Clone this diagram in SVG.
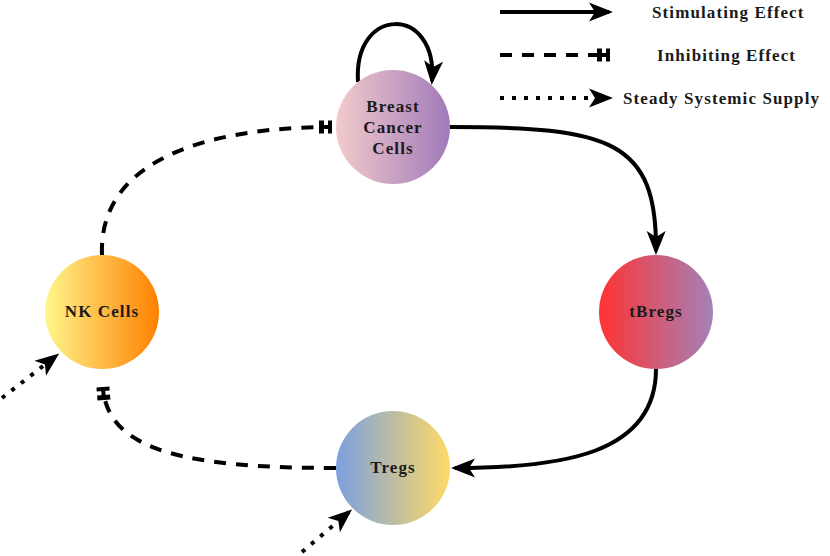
<svg xmlns="http://www.w3.org/2000/svg" width="830" height="556" viewBox="0 0 830 556">
<style>
.lbl{font-family:'Liberation Serif','DejaVu Serif','Times New Roman',serif;font-weight:700;font-size:17px;letter-spacing:1.1px;fill:#1a1a1a}
.c{text-anchor:middle}
.stim{fill:none;stroke:#000;stroke-width:4}
.inh{fill:none;stroke:#000;stroke-width:4;stroke-dasharray:12 10}
.sup{fill:none;stroke:#000;stroke-width:4;stroke-dasharray:4 8}
</style>
<defs>
<linearGradient id="gBC" x1="0" x2="1" y1="0" y2="0"><stop offset="0" stop-color="#f3cbcc"/><stop offset="1" stop-color="#a07ab8"/></linearGradient>
<linearGradient id="gNK" x1="0" x2="1" y1="0" y2="0"><stop offset="0" stop-color="#fff68c"/><stop offset="1" stop-color="#ff8000"/></linearGradient>
<linearGradient id="gTB" x1="0" x2="1" y1="0" y2="0"><stop offset="0" stop-color="#ff3333"/><stop offset="1" stop-color="#a382b8"/></linearGradient>
<linearGradient id="gTR" x1="0" x2="1" y1="0" y2="0"><stop offset="0" stop-color="#7ba1e0"/><stop offset="1" stop-color="#ffd966"/></linearGradient>
<marker id="arr" markerUnits="userSpaceOnUse" markerWidth="32" markerHeight="24" viewBox="-26 -12 32 24" refX="0" refY="0" orient="auto">
<path d="M4,0 L-20,-9.5 L-14,0 L-20,9.5 Z" fill="#000"/>
</marker>
<marker id="bar" markerUnits="userSpaceOnUse" markerWidth="24" markerHeight="20" viewBox="-18 -10 24 20" refX="0" refY="0" orient="auto">
<rect x="-12" y="-6.5" width="5" height="13" fill="#000"/>
<rect x="-3" y="-6.5" width="4" height="13" fill="#000"/>
<rect x="-12" y="-2" width="12" height="4" fill="#000"/>
</marker>
</defs>

<g id="legend">
<path class="stim" d="M500,12 L609,12" marker-end="url(#arr)"/>
<text class="lbl" x="652" y="18">Stimulating Effect</text>
<path class="inh" d="M500,55 L597,55"/>
<path d="M597,55 L609,55" stroke="#000" stroke-width="4" marker-end="url(#bar)" fill="none"/>
<text class="lbl" x="657" y="61">Inhibiting Effect</text>
<path class="sup" d="M500,98 L592,98"/>
<path d="M600,98 L609,98" stroke="none" fill="none" marker-end="url(#arr)"/>
<text class="lbl" x="623" y="104">Steady Systemic Supply</text>
</g>

<g id="connectors">
<path class="stim" d="M358,82 C353,5 438,5 432,81" marker-end="url(#arr)"/>
<path class="stim" d="M450,127 C610,127 657,140 656,251" marker-end="url(#arr)"/>
<path class="stim" d="M656,369 C656,455 560,468 455,468" marker-end="url(#arr)"/>
<path class="inh" d="M102,255 C98,150 230,127 331,127" marker-end="url(#bar)"/>
<path class="inh" d="M336,468 C190,468 108,452 103,388" marker-end="url(#bar)"/>
<path class="sup" d="M2,398 L56,356" marker-end="url(#arr)"/>
<path class="sup" d="M302,552 L349,512" marker-end="url(#arr)"/>
</g>

<g id="breast-cancer-cells">
<circle cx="393" cy="127" r="57" fill="url(#gBC)"/>
<text class="lbl c" x="393" y="112">Breast</text>
<text class="lbl c" x="393" y="133">Cancer</text>
<text class="lbl c" x="393" y="154">Cells</text>
</g>
<g id="nk-cells">
<circle cx="102" cy="312" r="57" fill="url(#gNK)"/>
<text class="lbl c" x="102" y="317">NK Cells</text>
</g>
<g id="tbregs">
<circle cx="656" cy="312" r="57" fill="url(#gTB)"/>
<text class="lbl c" x="656" y="317">tBregs</text>
</g>
<g id="tregs">
<circle cx="393" cy="468" r="57" fill="url(#gTR)"/>
<text class="lbl c" x="393" y="473">Tregs</text>
</g>
</svg>
